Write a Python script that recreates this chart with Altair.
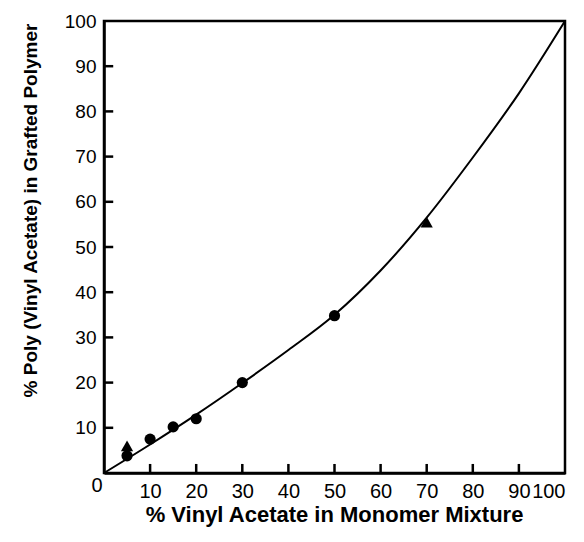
import altair as alt
import pandas as pd

# Data
circle_x = [5, 10, 15, 20, 30, 50]
circle_y = [3.8, 7.5, 10.2, 12, 20, 34.8]
tri_x = [5, 70]
tri_y = [6, 55.5]
curve_x = [0, 10, 20, 30, 40, 50, 60, 70, 80, 90, 100]
curve_y = [0, 6.3, 12.9, 19.9, 27.2, 35.0, 44.8, 56.5, 69.8, 84.0, 100]
tick_vals = [10, 20, 30, 40, 50, 60, 70, 80, 90, 100]
inner_ticks = [10, 20, 30, 40, 50, 60, 70, 80, 90]

FONT = "Liberation Sans"

circles = pd.DataFrame({"x": circle_x, "y": circle_y})
tris = pd.DataFrame({"x": tri_x, "y": tri_y})
curve = pd.DataFrame({"x": curve_x, "y": curve_y})
ticks = pd.DataFrame({"v": inner_ticks, "z": [0] * len(inner_ticks), "t": [2] * len(inner_ticks)})

xs = alt.Scale(domain=[0, 100], nice=False, zero=False)
ys = alt.Scale(domain=[0, 100], nice=False, zero=False)

xaxis = alt.Axis(values=tick_vals, title="% Vinyl Acetate in Monomer Mixture",
                 labelPadding=8, labelFontSize=20, titleFontSize=22, titleX=230, titleY=41)
yaxis = alt.Axis(values=tick_vals, title="% Poly (Vinyl Acetate) in Grafted Polymer",
                 labelPadding=8, labelFontSize=19, titleFontSize=19, titleX=-74, titleY=189)

X = alt.X("x:Q", scale=xs, axis=xaxis)
Y = alt.Y("y:Q", scale=ys, axis=yaxis)

line = alt.Chart(curve).mark_line(color="black", strokeWidth=2, interpolate="monotone").encode(x=X, y=Y)
pts = alt.Chart(circles).mark_point(shape="circle", filled=True, color="black", size=125, opacity=1).encode(x=X, y=Y)
trs = alt.Chart(tris).mark_point(shape="triangle-up", filled=True, color="black", size=150, opacity=1).encode(x=X, y=Y)

xt = alt.Chart(ticks).mark_rule(color="black", strokeWidth=2.5).encode(
    x=alt.X("v:Q", scale=xs, axis=xaxis), y=alt.Y("z:Q", scale=ys, axis=yaxis), y2="t:Q")
yt = alt.Chart(ticks).mark_rule(color="black", strokeWidth=2.5).encode(
    y=alt.Y("v:Q", scale=ys, axis=yaxis), x=alt.X("z:Q", scale=xs, axis=xaxis), x2="t:Q")

zero = alt.Chart(pd.DataFrame({"x": [0], "y": [0], "l": ["0"]})).mark_text(
    font=FONT, fontSize=20, color="black", dx=-7, dy=13).encode(x=X, y=Y, text="l:N")

chart = alt.layer(line, xt, yt, pts, trs, zero).properties(
    width=461, height=452,
    background="white",
    autosize=alt.AutoSizeParams(type="none"),
    padding={"left": 96, "top": 13, "right": 11, "bottom": 61},
).configure_view(
    stroke="black", strokeWidth=2.5
).configure_axis(
    grid=False, ticks=False, domainColor="black", domainWidth=2.5,
    labelFont=FONT, labelColor="black",
    titleFont=FONT, titleFontWeight="bold", titleColor="black",
    titleBaseline="middle",
)

chart.save("out.html", embed_options={"renderer": "svg", "actions": False})
